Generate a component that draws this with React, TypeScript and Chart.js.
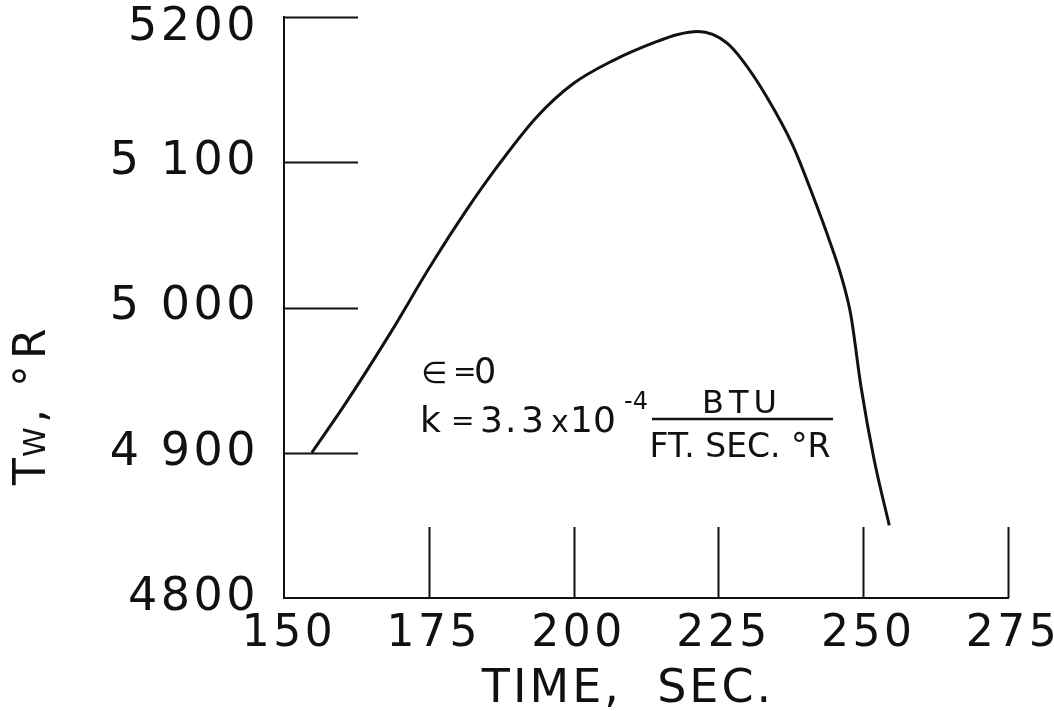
import React, { useEffect, useRef } from "react";
import { Chart, registerables } from "chart.js";

Chart.register(...registerables);

// ---- data ----
const timeSec = [154.8, 160.8, 168.3, 175.2, 181.5, 187.2, 193.6, 199.9, 206.8, 214.3, 218.0, 221.5, 224.0, 226.5, 229.0, 233.2, 237.8, 241.6, 244.0, 246.4, 247.9, 249.6, 251.9, 254.5];
const wallTempR = [4900, 4935, 4982, 5028, 5067, 5099, 5131, 5154, 5170, 5183, 5188, 5190, 5188, 5182, 5171, 5146, 5112, 5074, 5048, 5019, 4994, 4946, 4895, 4850];

const xTickValues = [150, 175, 200, 225, 250, 275];
const xTickLabels = ["150", "175", "200", "225", "250", "275"];
const yTickValues = [4800, 4900, 5000, 5100, 5200];
const yTickLabels = ["4800", "4 900", "5 000", "5 100", "5200"];

const xTitle = "TIME,  SEC.";
const annotEps = ["\u2208", "=", "0"];
const annotK = ["k", "=", "3", ".", "3", "x", "10", "-4"];
const annotNum = "BTU";
const annotDen = "FT. SEC. \u00B0R";
const annotAnchor = { x: 174, y: 4948 };

const FONT = "'DejaVu Sans', 'Liberation Sans', sans-serif";
const INK = "#111111";

const decorPlugin = {
  id: "decor",
  beforeDraw(chart: any) {
    // widen the lettering of the axis numbers a little
    (chart.ctx as any).letterSpacing = "3.5px";
  },
  beforeDatasetsDraw(chart: any) {
    (chart.ctx as any).letterSpacing = "0px";
  },
  afterDraw(chart: any) {
    const { ctx, chartArea } = chart;
    const xs = chart.scales.x;
    const ys = chart.scales.y;
    ctx.save();
    (ctx as any).letterSpacing = "0px";
    ctx.strokeStyle = INK;
    ctx.fillStyle = INK;
    ctx.lineWidth = 2;
    ctx.lineCap = "butt";
    // inward tick marks
    yTickValues.forEach((v) => {
      if (v === ys.min) return;
      const py = Math.round(ys.getPixelForValue(v)) + 0.5;
      ctx.beginPath();
      ctx.moveTo(chartArea.left, py);
      ctx.lineTo(chartArea.left + 74, py);
      ctx.stroke();
    });
    xTickValues.forEach((v) => {
      if (v === xs.min) return;
      const px = Math.round(xs.getPixelForValue(v)) + 0.5;
      ctx.beginPath();
      ctx.moveTo(px, chartArea.bottom);
      ctx.lineTo(px, chartArea.bottom - 71);
      ctx.stroke();
    });

    // x axis title
    ctx.font = `46px ${FONT}`;
    (ctx as any).letterSpacing = "3px";
    ctx.textAlign = "center";
    ctx.textBaseline = "alphabetic";
    ctx.fillText(xTitle, 628, 702);
    (ctx as any).letterSpacing = "0px";

    // y axis title  T_W, °R  (rotated)
    ctx.save();
    ctx.translate(45, 485);
    ctx.rotate(-Math.PI / 2);
    ctx.textAlign = "left";
    ctx.font = `44px ${FONT}`;
    ctx.fillText("T", 0, 0);
    ctx.font = `30px ${FONT}`;
    ctx.fillText("W", 28, 0);
    ctx.font = `44px ${FONT}`;
    ctx.fillText(",", 62, 0);
    ctx.fillText("\u00B0", 98, 0);
    ctx.fillText("R", 126, 0);
    ctx.restore();

    // annotation
    const ax = xs.getPixelForValue(annotAnchor.x);
    const ay = ys.getPixelForValue(annotAnchor.y);
    const dx = ax - 423;
    const dy = ay - 383;
    ctx.textAlign = "left";
    ctx.font = `30px ${FONT}`;
    ctx.fillText(annotEps[0], 421 + dx, 383 + dy);
    ctx.font = `28px ${FONT}`;
    ctx.fillText(annotEps[1], 453 + dx, 381 + dy);
    ctx.font = `35px ${FONT}`;
    ctx.fillText(annotEps[2], 474 + dx, 383 + dy);

    ctx.font = `36px ${FONT}`;
    ctx.fillText(annotK[0], 420 + dx, 432 + dy);
    ctx.font = `28px ${FONT}`;
    ctx.fillText(annotK[1], 451 + dx, 430 + dy);
    ctx.font = `36px ${FONT}`;
    ctx.fillText(annotK[2], 480 + dx, 432 + dy);
    ctx.fillText(annotK[3], 505 + dx, 432 + dy);
    ctx.fillText(annotK[4], 521 + dx, 432 + dy);
    ctx.font = `30px ${FONT}`;
    ctx.fillText(annotK[5], 551 + dx, 432 + dy);
    ctx.font = `36px ${FONT}`;
    ctx.fillText(annotK[6], 570 + dx, 432 + dy);
    ctx.font = `24px ${FONT}`;
    ctx.fillText(annotK[7], 624 + dx, 409 + dy);

    ctx.textAlign = "center";
    ctx.font = `32px ${FONT}`;
    (ctx as any).letterSpacing = "5px";
    ctx.fillText(annotNum, 742 + dx, 413 + dy);
    (ctx as any).letterSpacing = "0px";
    ctx.lineWidth = 2.5;
    ctx.beginPath();
    ctx.moveTo(652 + dx, 419 + dy);
    ctx.lineTo(833 + dx, 419 + dy);
    ctx.stroke();
    ctx.font = `33px ${FONT}`;
    ctx.fillText(annotDen, 740 + dx, 457 + dy);

    ctx.restore();
  },
};

export default function App() {
  const ref = useRef<HTMLCanvasElement | null>(null);

  useEffect(() => {
    if (!ref.current) return;
    const chart = new Chart(ref.current, {
      type: "line",
      data: {
        datasets: [
          {
            data: timeSec.map((t, i) => ({ x: t, y: wallTempR[i] })),
            borderColor: INK,
            borderWidth: 3,
            pointRadius: 0,
            fill: false,
            cubicInterpolationMode: "monotone",
          },
        ],
      },
      options: {
        responsive: false,
        animation: false,
        layout: { padding: { top: 17, right: 46, left: 0, bottom: 0 } },
        plugins: { legend: { display: false }, tooltip: { enabled: false }, title: { display: false } },
        scales: {
          x: {
            type: "linear",
            min: 150,
            max: 275,
            grid: { display: false, drawTicks: false },
            border: { display: true, color: INK, width: 2 },
            afterBuildTicks: (s: any) => {
              s.ticks = xTickValues.map((v) => ({ value: v }));
            },
            afterFit: (s: any) => {
              s.height = 113;
              s.paddingLeft = 0;
              s.paddingRight = 0;
            },
            ticks: {
              color: INK,
              padding: 10,
              labelOffset: 5,
              maxRotation: 0,
              autoSkip: false,
              font: { family: FONT, size: 44 },
              callback: (v: any) => xTickLabels[xTickValues.indexOf(Number(v))] ?? "",
            },
          },
          y: {
            type: "linear",
            min: 4800,
            max: 5200,
            grid: { display: false, drawTicks: false },
            border: { display: true, color: INK, width: 2 },
            afterBuildTicks: (s: any) => {
              s.ticks = yTickValues.map((v) => ({ value: v }));
            },
            afterFit: (s: any) => {
              s.width = 284;
              s.paddingTop = 0;
              s.paddingBottom = 0;
            },
            ticks: {
              color: INK,
              padding: 25,
              autoSkip: false,
              // the top label sits a little below its tick in the reference
              font: (c: any) =>
                c.tick && c.tick.value === 5200
                  ? { family: FONT, size: 46, lineHeight: 0.48 }
                  : { family: FONT, size: 46 },
              callback: (v: any) => {
                const lab = yTickLabels[yTickValues.indexOf(Number(v))] ?? "";
                return Number(v) === 5200 ? ["", lab] : lab;
              },
            },
          },
        },
      },
      plugins: [decorPlugin],
    } as any);
    return () => chart.destroy();
  }, []);

  return (
    <div style={{ position: "fixed", left: 0, top: 0, width: 1054, height: 711, background: "#fff" }}>
      <canvas ref={ref} width={1054} height={711} style={{ display: "block", width: 1054, height: 711 }} />
    </div>
  );
}
